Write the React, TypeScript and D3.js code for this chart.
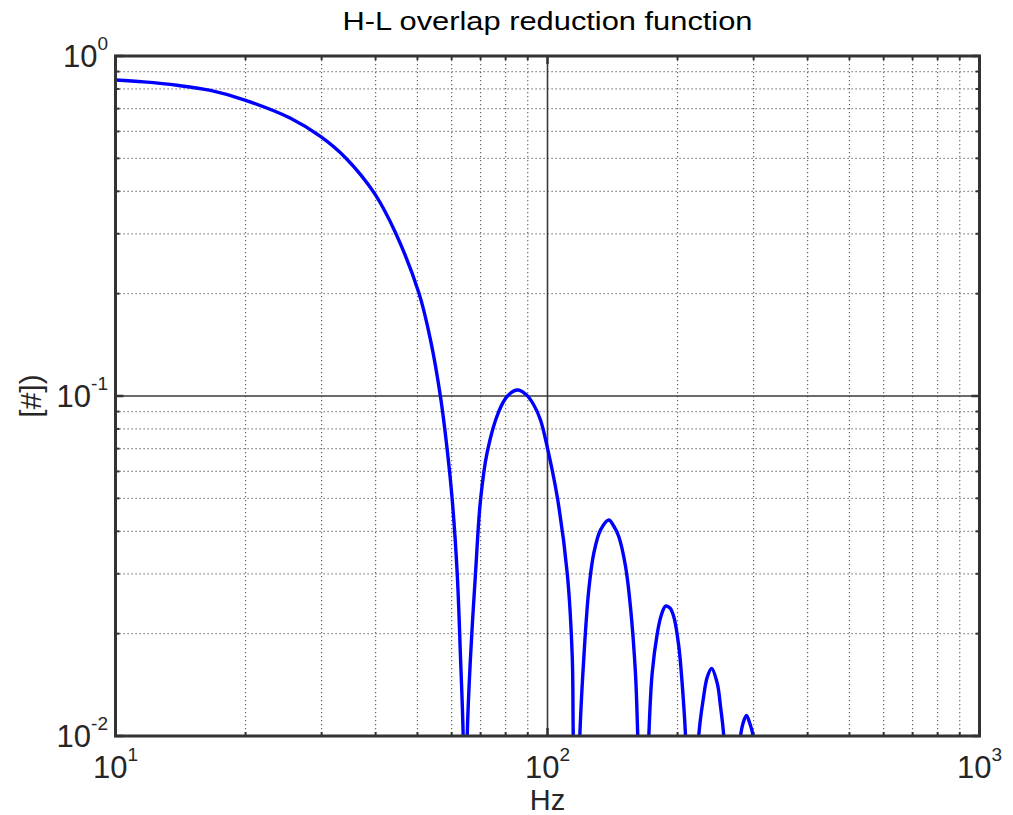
import React from "react";
import * as d3 from "d3";

const freqHz = [
  10, 11.63, 13.89, 16.59, 19.92, 25.42, 29.87, 34.07, 39.83, 44.48, 50.41, 53.6, 56.53, 58.6, 60.19, 61.8, 62.89, 63.8, 64.5,
  65.18, 66.35, 68.13, 69.97, 72.52, 77.03, 80.8, 85.11, 89.43, 92.97, 96.33, 99.84, 105.3, 111.1, 114.1, 114.7, 116.7,
  118.8, 121.4, 124.6, 128.0, 132.7, 138.7, 142.1, 146.2, 151.6, 155.6, 159.8, 161.8, 166.6,
  171.6, 174.7, 179.5, 183.1, 187.6, 192.1, 196.1, 201.4, 206.8, 208.7, 216,
  223.9, 229.3, 234.3, 239.8, 247.1, 251.5, 255.9, 267.5,
  279.8, 284.8, 288.8, 293.9, 299.1, 310,
];
const overlap = [
  0.85, 0.839, 0.82, 0.792, 0.742, 0.656, 0.579, 0.502, 0.393, 0.302, 0.2005, 0.1462, 0.0995, 0.0694, 0.0494, 0.0301, 0.0171, 0.01, 0.003,
  0.01, 0.0171, 0.0301, 0.0494, 0.0684, 0.0897, 0.1, 0.1041, 0.1007, 0.0941, 0.085, 0.0709, 0.0506, 0.0301, 0.0171, 0.01, 0.003,
  0.01, 0.0171, 0.0269, 0.0345, 0.0404, 0.0432, 0.0416, 0.0386, 0.0315, 0.024, 0.0153, 0.01, 0.003,
  0.01, 0.0153, 0.02, 0.0225, 0.0241, 0.0238, 0.0224, 0.0183, 0.0122, 0.01, 0.003,
  0.01, 0.0128, 0.0149, 0.0158, 0.0143, 0.0122, 0.01, 0.003,
  0.01, 0.0111, 0.0115, 0.0109, 0.01, 0.003,
];

const xDomain = [10, 1000];
const yDomain = [0.01, 1];
const xMajor = [10, 100, 1000];
const xExp = ["1", "2", "3"];
const yMajor = [0.01, 0.1, 1];
const yExp = ["-2", "-1", "0"];
const titleText = "H-L overlap reduction function";
const xLabel = "Hz";
const yLabel = "[#])";

const W = 1013;
const H = 815;
const L = 115.5, R = 979.5, T = 56, B = 736;
const FONT = "'Liberation Sans', Arial, Helvetica, sans-serif";
const TXT = "#262626";

function minorTicks(lo: number, hi: number): number[] {
  const out: number[] = [];
  for (let p = Math.log10(lo); p < Math.log10(hi); p++) {
    for (let m = 2; m <= 9; m++) out.push(m * Math.pow(10, p));
  }
  return out;
}

export default function App() {
  const x = d3.scaleLog().domain(xDomain).range([L, R]);
  const y = d3.scaleLog().domain(yDomain).range([B, T]);
  const xMinor = minorTicks(xDomain[0], xDomain[1]);
  const yMinor = minorTicks(yDomain[0], yDomain[1]);
  const pts = freqHz.map((f, i) => [f, overlap[i]] as [number, number]);
  const line = d3
    .line<[number, number]>()
    .x((d) => x(d[0]))
    .y((d) => y(d[1]))
    .curve(d3.curveCatmullRom.alpha(0.5));

  return (
    <svg width={W} height={H} style={{ position: "absolute", left: 0, top: 0, background: "#fff" }} fontFamily={FONT}>
      <defs>
        <clipPath id="plotClip">
          <rect x={L} y={T} width={R - L} height={B - T} />
        </clipPath>
      </defs>
      <rect x={0} y={0} width={W} height={H} fill="#fff" />
      {/* minor grid */}
      {xMinor.map((v) => (
        <line key={"xg" + v} x1={x(v)} x2={x(v)} y1={T} y2={B} stroke="#666" strokeWidth={1.2} strokeDasharray="1.2,2.8" />
      ))}
      {yMinor.map((v) => (
        <line key={"yg" + v} x1={L} x2={R} y1={y(v)} y2={y(v)} stroke="#666" strokeWidth={1.2} strokeDasharray="1.2,2.8" />
      ))}
      {/* major grid */}
      {xMajor.slice(1, -1).map((v) => (
        <line key={"xM" + v} x1={x(v)} x2={x(v)} y1={T} y2={B} stroke="#3a3a3a" strokeWidth={1.6} />
      ))}
      {yMajor.slice(1, -1).map((v) => (
        <line key={"yM" + v} x1={L} x2={R} y1={y(v)} y2={y(v)} stroke="#3a3a3a" strokeWidth={1.6} />
      ))}
      {/* ticks */}
      {xMinor.map((v) => (
        <g key={"xt" + v} stroke="#333" strokeWidth={2}>
          <line x1={x(v)} x2={x(v)} y1={B} y2={B - 4} />
          <line x1={x(v)} x2={x(v)} y1={T} y2={T + 4} />
        </g>
      ))}
      {yMinor.map((v) => (
        <g key={"yt" + v} stroke="#333" strokeWidth={2}>
          <line x1={L} x2={L + 4} y1={y(v)} y2={y(v)} />
          <line x1={R} x2={R - 4} y1={y(v)} y2={y(v)} />
        </g>
      ))}
      {xMajor.map((v) => (
        <g key={"xT" + v} stroke="#333" strokeWidth={2.5}>
          <line x1={x(v)} x2={x(v)} y1={B} y2={B - 8} />
          <line x1={x(v)} x2={x(v)} y1={T} y2={T + 8} />
        </g>
      ))}
      {yMajor.map((v) => (
        <g key={"yT" + v} stroke="#333" strokeWidth={2.5}>
          <line x1={L} x2={L + 8} y1={y(v)} y2={y(v)} />
          <line x1={R} x2={R - 8} y1={y(v)} y2={y(v)} />
        </g>
      ))}
      {/* data */}
      <path d={line(pts) || ""} fill="none" stroke="#0000ff" strokeWidth={3.4} strokeLinejoin="round" clipPath="url(#plotClip)" />
      {/* border */}
      <rect x={L} y={T} width={R - L} height={B - T} fill="none" stroke="#333" strokeWidth={3} />
      {/* x tick labels */}
      {xMajor.map((v, i) => (
        <text key={"xl" + v} x={x(v)} y={778} textAnchor="middle" fontSize={31} fill={TXT}>
          10
          <tspan dy={-17} fontSize={19}>{xExp[i]}</tspan>
        </text>
      ))}
      {/* y tick labels */}
      {yMajor.map((v, i) => (
        <text key={"yl" + v} x={108} y={y(v) + 11} textAnchor="end" fontSize={31} fill={TXT}>
          10
          <tspan dy={-17} fontSize={19}>{yExp[i]}</tspan>
        </text>
      ))}
      {/* title & labels */}
      <text x={(L + R) / 2} y={30} textAnchor="middle" fontSize={26} fill="#000" textLength={410} lengthAdjust="spacingAndGlyphs">
        {titleText}
      </text>
      <text x={(L + R) / 2} y={810} textAnchor="middle" fontSize={29} fill={TXT}>
        {xLabel}
      </text>
      <text transform={`translate(41,${(T + B) / 2}) rotate(-90)`} textAnchor="middle" fontSize={30} fill={TXT}>
        {yLabel}
      </text>
    </svg>
  );
}
